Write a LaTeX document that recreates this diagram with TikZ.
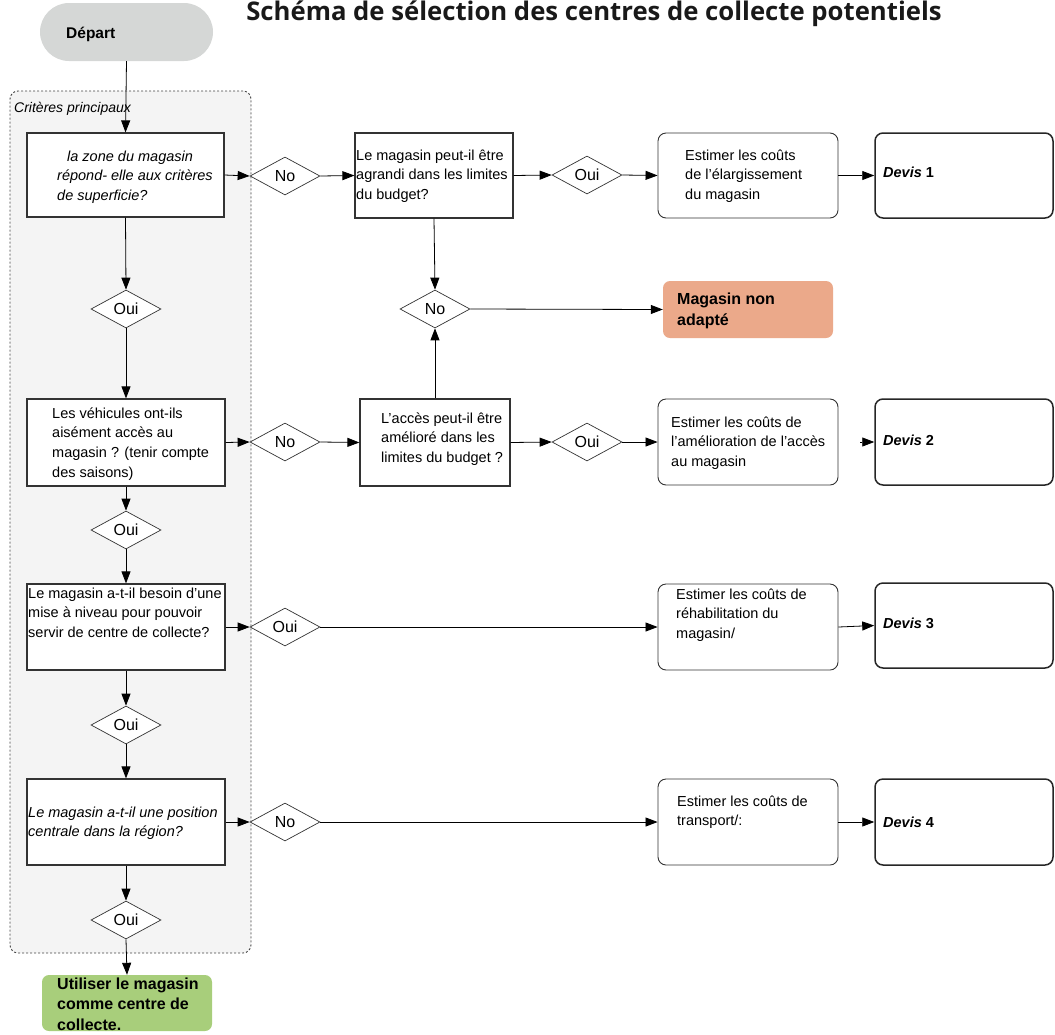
\documentclass[tikz,border=0pt]{standalone}
\usepackage{fontspec}
\setmainfont{Liberation Sans}
\newfontfamily\titlefont{Open Sans}
\usetikzlibrary{shapes.geometric,arrows.meta}
\definecolor{lineC}{HTML}{333333}
\definecolor{contFill}{HTML}{F4F4F4}
\definecolor{contLine}{HTML}{444444}
\definecolor{depFill}{HTML}{D5D7D6}
\definecolor{redFill}{HTML}{EBA98A}
\definecolor{greenFill}{HTML}{A8CE7B}
\newcommand\ml[1]{\parbox[t]{300pt}{\raggedright #1}}
\begin{document}
\begin{tikzpicture}[x=1pt,y=-1pt,
  every node/.style={font=\fontsize{14.5}{19.7}\selectfont, text=black},
  qbox/.style={draw=lineC, line width=1.2pt, fill=white, inner sep=0pt},
  rbox/.style={draw=lineC, line width=0.9pt, fill=white, rounded corners=8pt, inner sep=0pt},
  dbox/.style={draw=black!85, line width=1.5pt, fill=white, rounded corners=8pt, inner sep=0pt},
  dec/.style={diamond, draw=lineC, line width=0.7pt, fill=white, inner sep=0pt, minimum width=70pt, minimum height=38pt, font=\fontsize{16}{19}\selectfont},
  txt/.style={anchor=base west, inner sep=0pt},
  btxt/.style={anchor=base west, inner sep=0pt, font=\bfseries\fontsize{16}{21}\selectfont},
  arr/.style={draw=black, line width=0.8pt, -{Triangle[length=12pt,width=9pt]}}
]
\useasboundingbox (0,0) rectangle (1055,1034);

% title
\node[anchor=base, inner sep=0pt, font=\titlefont\bfseries\fontsize{25.7}{30}\selectfont, text=black!90] (title) at (594,20) {Schéma de sélection des centres de collecte potentiels};

% container
\node[draw=contLine, dash pattern=on 2pt off 2pt, line width=0.9pt, fill=contFill, rounded corners=8pt,
      minimum width=241pt, minimum height=862pt, inner sep=0pt] (cont) at (130.5,522) {};
\node[txt, font=\itshape\fontsize{14}{18}\selectfont] (contlab) at (14,112) {Critères principaux};

% start
\node[fill=depFill, rounded corners=29pt, minimum width=173pt, minimum height=58pt, inner sep=0pt] (dep) at (126.5,32) {};
\node[txt, font=\bfseries\fontsize{15.5}{18}\selectfont] (deplab) at (66,38) {Départ};

% row 1
\node[qbox, minimum width=197pt, minimum height=84pt] (b1) at (125.5,175) {};
\node[txt, font=\itshape\fontsize{14.5}{19.7}\selectfont] (b1t) at (57,161) {\ml{\hspace*{10pt}la zone du magasin\\répond- elle aux critères\\de superficie?}};
\node[dec] (n1) at (285,176) {No};
\node[qbox, minimum width=158pt, minimum height=85pt] (b2) at (434,175.5) {};
\node[txt] (b2t) at (356,160) {\ml{Le magasin peut-il être\\agrandi dans les limites\\du budget?}};
\node[dec] (o1) at (587,175) {Oui};
\node[rbox, minimum width=180pt, minimum height=85pt] (e1) at (748,175.5) {};
\node[txt] (e1t) at (685,160) {\ml{Estimer les coûts\\de l’élargissement\\du magasin}};
\node[dbox, minimum width=178pt, minimum height=85pt] (d1) at (964,175.5) {};
\node[txt] (d1t) at (883,177) {\textbf{\textit{Devis}} \textbf{1}};

% reject
\node[dec] (n2) at (435,309) {No};
\node[fill=redFill, rounded corners=7pt, minimum width=170pt, minimum height=57pt, inner sep=0pt] (mna) at (748,309.5) {};
\node[btxt] (mnat) at (677,304) {\ml{Magasin non\\adapté}};

% row 2
\node[dec] (oL1) at (126,309) {Oui};
\node[qbox, minimum width=198pt, minimum height=87pt] (b3) at (126,442.5) {};
\node[txt] (b3t) at (52,418) {\ml{Les véhicules ont-ils\\aisément accès au\\magasin ? (tenir compte\\des saisons)}};
\node[dec] (n3) at (285,442) {No};
\node[qbox, minimum width=150pt, minimum height=87pt] (b4) at (435,442.5) {};
\node[txt] (b4t) at (381,423) {\ml{L’accès peut-il être\\amélioré dans les\\limites du budget ?}};
\node[dec] (o2) at (587,442) {Oui};
\node[rbox, minimum width=180pt, minimum height=86pt] (e2) at (748,442) {};
\node[txt] (e2t) at (671,427) {\ml{Estimer les coûts de\\l’amélioration de l’accès\\au magasin}};
\node[dbox, minimum width=178pt, minimum height=86pt] (d2) at (964,442) {};
\node[txt] (d2t) at (883,445) {\textbf{\textit{Devis}} \textbf{2}};

% row 3
\node[dec] (oL2) at (126,530) {Oui};
\node[qbox, minimum width=198pt, minimum height=86pt] (b5) at (126,627) {};
\node[txt] (b5t) at (28,598) {\ml{Le magasin a-t-il besoin d'une\\mise à niveau pour pouvoir\\servir de centre de collecte?}};
\node[dec] (o3) at (285,627) {Oui};
\node[rbox, minimum width=180pt, minimum height=86pt] (e3) at (748,627) {};
\node[txt] (e3t) at (676,599) {\ml{Estimer les coûts de\\réhabilitation du\\magasin/}};
\node[dbox, minimum width=178pt, minimum height=85pt] (d3) at (964,625.5) {};
\node[txt] (d3t) at (883,628) {\textbf{\textit{Devis}} \textbf{3}};

% row 4
\node[dec] (oL3) at (126,725) {Oui};
\node[qbox, minimum width=198pt, minimum height=86pt] (b6) at (126,822) {};
\node[txt, font=\itshape\fontsize{14.5}{19.7}\selectfont] (b6t) at (28,817) {\ml{Le magasin a-t-il une position\\centrale dans la région?}};
\node[dec] (n4) at (285,822) {No};
\node[rbox, minimum width=180pt, minimum height=86pt] (e4) at (748,822) {};
\node[txt] (e4t) at (677,806) {\ml{Estimer les coûts de\\transport/:}};
\node[dbox, minimum width=178pt, minimum height=86pt] (d4) at (964,822) {};
\node[txt] (d4t) at (883,827) {\textbf{\textit{Devis}} \textbf{4}};

% end
\node[dec] (oL4) at (126,920) {Oui};
\node[fill=greenFill, rounded corners=7pt, minimum width=170pt, minimum height=56pt, inner sep=0pt] (green) at (127,1003) {};
\node[btxt, font=\bfseries\fontsize{16}{20.5}\selectfont] (greent) at (57,989) {\ml{Utiliser le magasin\\comme centre de\\collecte.}};

% connectors
\draw[arr] (dep.south) -- (b1.north);
\draw[arr] (b1.east) -- (n1.west);
\draw[arr] (n1.east) -- (b2.west);
\draw[arr] (b2.east) -- (o1.west);
\draw[arr] (o1.east) -- (e1.west);
\draw[arr] (e1.east) -- (d1.west);
\draw[arr] (b2.south) -- (n2.north);
\draw[arr] (n2.east) -- (mna.west);
\draw[arr] (b4.north) -- (n2.south);
\draw[arr] (b1.south) -- (oL1.north);
\draw[arr] (oL1.south) -- (b3.north);
\draw[arr] (b3.east) -- (n3.west);
\draw[arr] (n3.east) -- (b4.west);
\draw[arr] (b4.east) -- (o2.west);
\draw[arr] (o2.east) -- (e2.west);
\draw[arr, shorten <=22pt] (e2.east) -- (d2.west);
\draw[arr] (b3.south) -- (oL2.north);
\draw[arr] (oL2.south) -- (b5.north);
\draw[arr] (b5.east) -- (o3.west);
\draw[arr] (o3.east) -- (e3.west);
\draw[arr] (e3.east) -- (d3.west);
\draw[arr] (b5.south) -- (oL3.north);
\draw[arr] (oL3.south) -- (b6.north);
\draw[arr] (b6.east) -- (n4.west);
\draw[arr] (n4.east) -- (e4.west);
\draw[arr] (e4.east) -- (d4.west);
\draw[arr] (b6.south) -- (oL4.north);
\draw[arr] (oL4.south) -- (green.north);
\end{tikzpicture}
\end{document}
